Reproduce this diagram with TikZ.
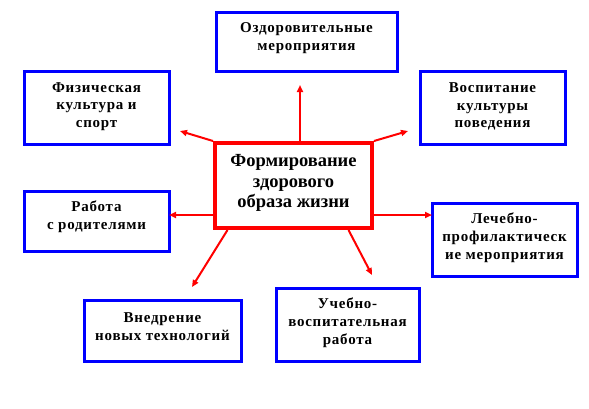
\documentclass[tikz,border=0pt]{standalone}
\usepackage{fontspec}
\setmainfont{Liberation Serif}
\newfontfamily\spacedfont{Liberation Serif}[LetterSpace=5]
\usetikzlibrary{arrows.meta}
\begin{document}
\begin{tikzpicture}[x=1pt,y=-1pt,
  box/.style={draw=blue, line width=3pt, inner sep=0pt},
  redbox/.style={draw=red, line width=4pt, inner sep=0pt},
  txt/.style={font=\spacedfont\bfseries\fontsize{15}{17.8}\selectfont, align=center, inner sep=0pt},
  bigtxt/.style={font=\bfseries\fontsize{18.5}{20.8}\selectfont, align=center, inner sep=0pt},
  arr/.style={draw=red, line width=2pt, -{Triangle[length=7pt,width=6pt]}}]
\useasboundingbox (0,0) rectangle (589,408);
\fill[white] (0,0) rectangle (589,408);
% boxes
\node[box, minimum width=181pt, minimum height=59pt] (b1) at (306.5,41.5) {};
\node[box, minimum width=145pt, minimum height=73pt] (b2) at (96.5,107.5) {};
\node[box, minimum width=145pt, minimum height=73pt] (b3) at (492.5,107.5) {};
\node[redbox, minimum width=157pt, minimum height=85pt] (c) at (293.5,185.5) {};
\node[box, minimum width=145pt, minimum height=60pt] (b4) at (96.5,221) {};
\node[box, minimum width=145pt, minimum height=73pt] (b5) at (504.5,239.5) {};
\node[box, minimum width=157pt, minimum height=61pt] (b6) at (162.5,330.5) {};
\node[box, minimum width=143pt, minimum height=73pt] (b7) at (347.5,324.5) {};
% texts
\node[txt] (t1) at (306.5,38) {Оздоровительные\\мероприятия};
\node[txt] (t2) at (96.5,106.5) {Физическая\\культура и\\спорт};
\node[txt] (t3) at (492.5,106.5) {Воспитание\\культуры\\поведения};
\node[bigtxt] (tc) at (293.5,183) {Формирование\\здорового\\образа жизни};
\node[txt] (t4) at (96.5,217) {Работа\\с родителями};
\node[txt] (t5) at (504.5,238) {Лечебно-\\профилактическ\\ие мероприятия};
\node[txt] (t6) at (162.5,326.5) {Внедрение\\новых технологий};
\node[txt] (t7) at (347.5,323) {Учебно-\\воспитательная\\работа};
% arrow end points
\coordinate (e1) at (300,85);
\coordinate (e2) at (180,131);
\coordinate (e3) at (408,131);
\coordinate (e4) at (169,215);
\coordinate (e5) at (432,215);
\coordinate (e6) at (192,287);
\coordinate (e7) at (372,275);
\draw[arr] (c.north -| e1) -- (e1);
\draw[arr] (c.north west) -- (e2);
\draw[arr] (c.north east) -- (e3);
\draw[arr] (c.west |- e4) -- (e4);
\draw[arr] (c.east |- e5) -- (e5);
\draw[arr] ([xshift=-66pt]c.south) -- (e6);
\draw[arr] ([xshift=55pt]c.south) -- (e7);
\end{tikzpicture}
\end{document}
